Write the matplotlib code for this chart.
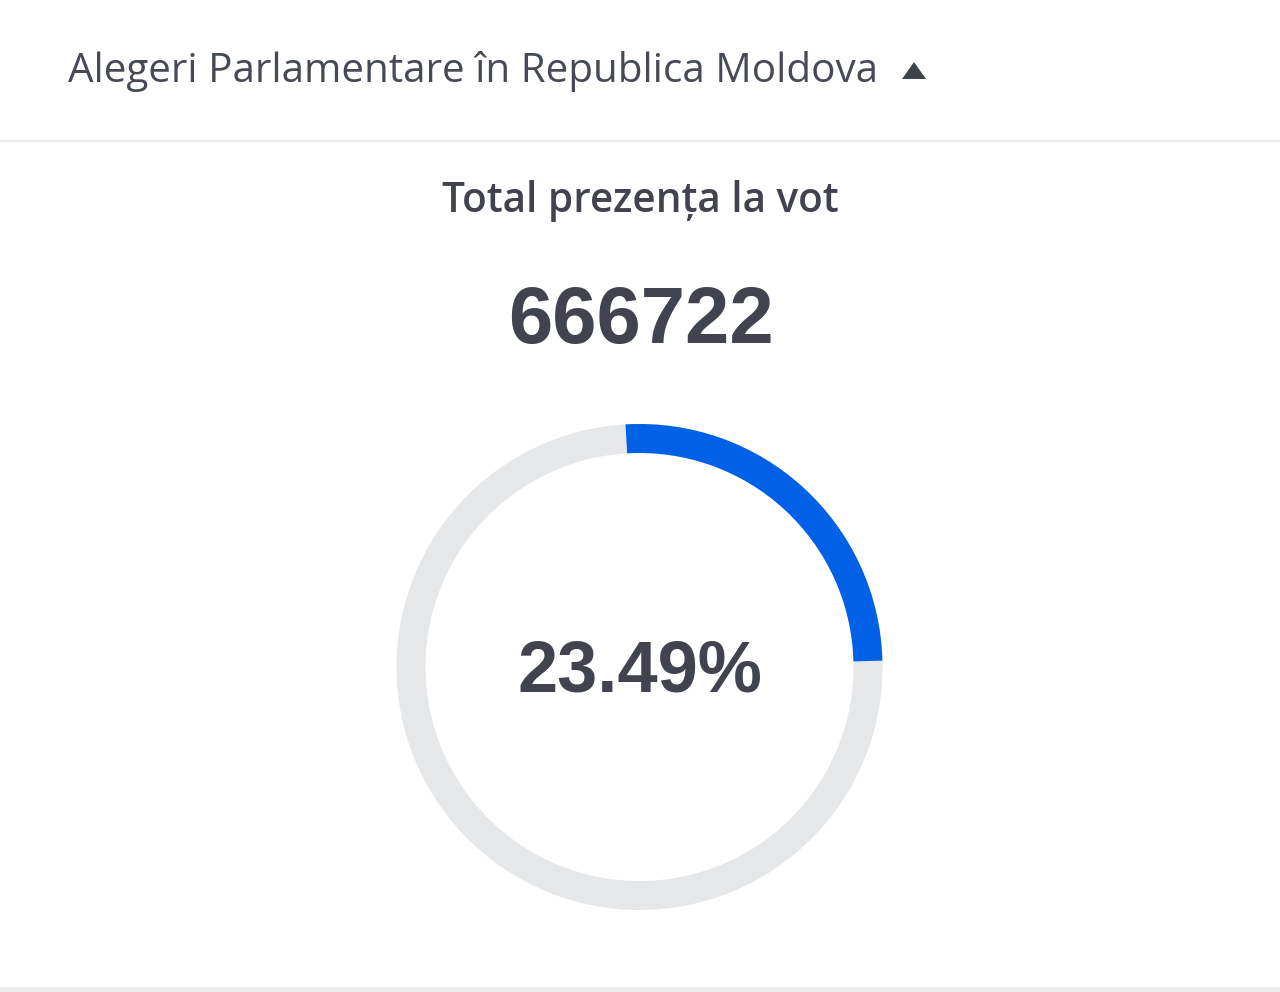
import matplotlib
matplotlib.use("Agg")
import matplotlib.pyplot as plt
from matplotlib.patches import Wedge, Polygon

# ---- data ----
header_text = "Alegeri Parlamentare în Republica Moldova"
title_text = "Total prezența la vot"
total_votes = 666722
turnout_pct = 23.49
arc_share_pct = 25.5      # share of the circle covered by the blue arc (as drawn)
arc_offset_deg = 3.3      # arc starts slightly left of 12 o'clock

W, H = 1280, 992
fig = plt.figure(figsize=(W / 100, H / 100), dpi=100)
ax = fig.add_axes([0, 0, 1, 1])
ax.set_xlim(0, W)
ax.set_ylim(H, 0)
ax.set_aspect("equal")
ax.axis("off")
fig.patch.set_facecolor("white")

text_dark = "#41444f"
font_ui = ["Open Sans", "DejaVu Sans"]
font_num = ["Liberation Sans", "DejaVu Sans"]

# header
ax.text(68, 72, header_text, fontsize=29.1, family=font_ui, color="#454a55",
        ha="left", va="center")
ax.add_patch(Polygon([[902, 79], [926, 79], [914, 62]], closed=True,
                     facecolor="#3f434c", edgecolor="none"))
ax.axhline(141, color="#ececec", lw=1.5)

# bottom border
ax.add_patch(plt.Rectangle((0, 987), W, 6, facecolor="#ececec", edgecolor="none"))

# title and total
ax.text(640, 201, title_text, fontsize=29.2, family=font_ui, fontweight="semibold",
        color=text_dark, ha="center", va="center")
ax.text(641, 322, f"{total_votes}", fontsize=57.4, family=font_num,
        fontweight="bold", color=text_dark, ha="center", va="center")

# ring (y axis inverted: angles measured clockwise from +x)
cx, cy = 639.5, 667
r_out, width = 243, 29
ax.add_patch(Wedge((cx, cy), r_out, 0, 360, width=width,
                   facecolor="#e6e7e9", edgecolor="none"))
start = -90 - arc_offset_deg
end = start + arc_share_pct / 100 * 360
ax.add_patch(Wedge((cx, cy), r_out, start, end, width=width,
                   facecolor="#0060e6", edgecolor="none"))

ax.text(cx, 672, f"{turnout_pct:.2f}%", fontsize=52, family=font_num,
        fontweight="bold", color=text_dark, ha="center", va="center")

fig.savefig("out.png", dpi=100, facecolor="white")
